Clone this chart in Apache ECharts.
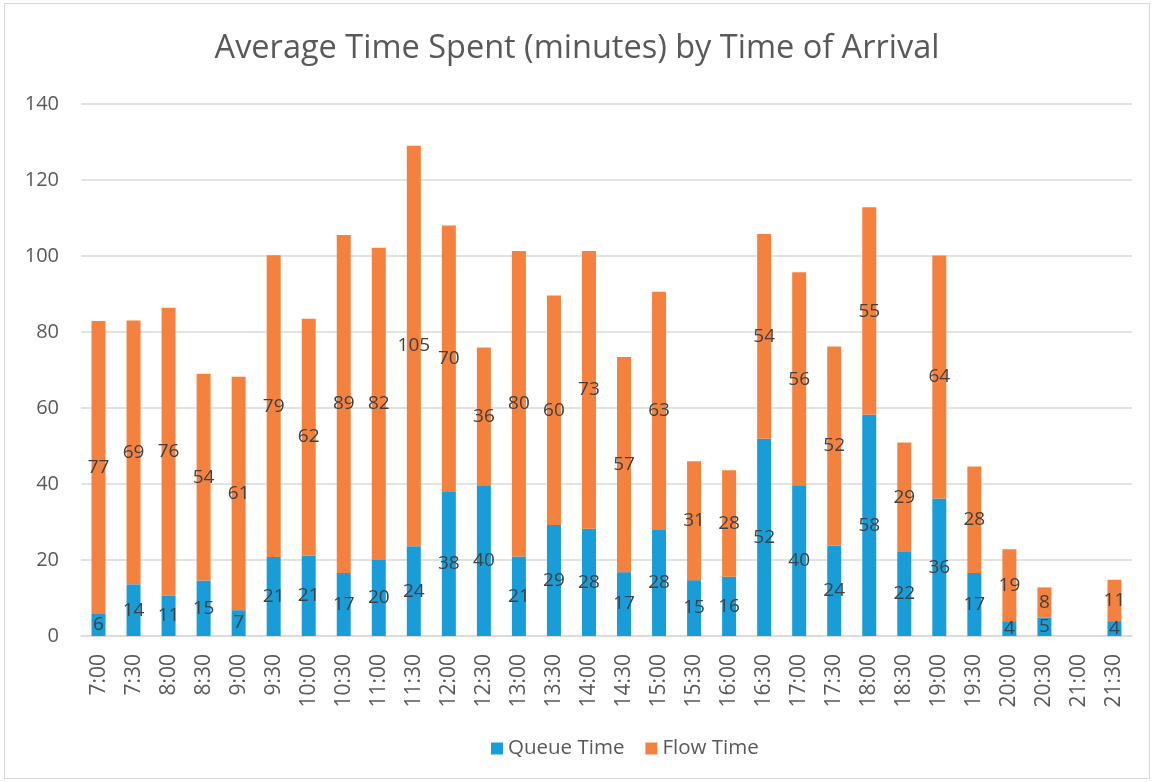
<!DOCTYPE html>
<html>
<head>
<meta charset="utf-8">
<script src="https://cdn.jsdelivr.net/npm/echarts@6/dist/echarts.min.js"></script>
<style>
    html, body { margin: 0; padding: 0; background: #fff; }
    #main { position: absolute; left: 0; top: 0; width: 1154px; height: 782px; }
    .frame { position: absolute; left: 4px; top: 3px; width: 1146px; height: 776px; border: 1px solid #d9d9d9; box-sizing: border-box; }
</style>
</head>
<body>
<div class="frame"></div>
<div id="main"></div>
<script>
    // arrival time slots
    var times = ['7:00', '7:30', '8:00', '8:30', '9:00', '9:30', '10:00', '10:30', '11:00', '11:30',
        '12:00', '12:30', '13:00', '13:30', '14:00', '14:30', '15:00', '15:30', '16:00', '16:30',
        '17:00', '17:30', '18:00', '18:30', '19:00', '19:30', '20:00', '20:30', '21:00', '21:30'];
    // minutes ('-' = no data)
    var queueTime = [5.8, 13.6, 10.6, 14.6, 6.8, 20.8, 21.2, 16.6, 20.0, 23.6,
        37.9, 39.5, 20.9, 29.2, 28.2, 16.8, 27.9, 14.7, 15.6, 51.9,
        39.5, 23.8, 58.2, 22.1, 36.2, 16.6, 3.9, 4.8, '-', 3.9];
    var flowTime = [77.1, 69.4, 75.8, 54.4, 61.4, 79.4, 62.3, 88.9, 82.2, 105.4,
        70.1, 36.4, 80.4, 60.4, 73.1, 56.6, 62.7, 31.3, 28.0, 53.9,
        56.2, 52.4, 54.6, 28.8, 63.9, 28.0, 18.9, 8.0, '-', 10.9];
    var yTicks = {min: 0, max: 140, step: 20};

    var fontFam = "'Open Sans', 'Noto Sans', sans-serif";
    var myChart = echarts.init(document.getElementById('main'));
    var segLabel = {
        show: true,
        position: 'inside',
        color: '#404040',
        fontSize: 19,
        fontFamily: fontFam,
        formatter: function (p) { return Math.round(p.value); }
    };
    var option = {
        animation: false,
        title: {
            text: 'Average Time Spent (minutes) by Time of Arrival',
            left: 'center',
            top: 27,
            textStyle: {color: '#595959', fontSize: 32.5, fontWeight: 'normal', fontFamily: fontFam}
        },
        legend: {
            bottom: 18,
            left: 486,
            itemWidth: 12,
            itemHeight: 12,
            itemGap: 21,
            icon: 'rect',
            textStyle: {color: '#595959', fontSize: 20.5, fontFamily: fontFam},
            data: ['Queue Time', 'Flow Time']
        },
        grid: {left: 81, right: 22, top: 104, bottom: 146, containLabel: false},
        xAxis: {
            type: 'category',
            data: times,
            axisTick: {show: false},
            axisLine: {lineStyle: {color: '#d9d9d9', width: 1.5}},
            axisLabel: {rotate: 90, margin: 18, color: '#595959', fontSize: 21, fontFamily: fontFam, interval: 0}
        },
        yAxis: {
            type: 'value',
            min: yTicks.min,
            max: yTicks.max,
            interval: yTicks.step,
            axisLine: {show: false},
            axisTick: {show: false},
            splitLine: {lineStyle: {color: '#d9d9d9', width: 1.5}},
            axisLabel: {margin: 22, color: '#595959', fontSize: 20, fontFamily: fontFam}
        },
        series: [
            {
                name: 'Queue Time',
                type: 'bar',
                stack: 'total',
                barWidth: 14,
                itemStyle: {color: '#189dd8'},
                label: segLabel,
                data: queueTime
            },
            {
                name: 'Flow Time',
                type: 'bar',
                stack: 'total',
                barWidth: 14,
                itemStyle: {color: '#f4823e'},
                label: segLabel,
                data: flowTime
            }
        ]
    };
    myChart.setOption(option);
</script>
</body>
</html>
